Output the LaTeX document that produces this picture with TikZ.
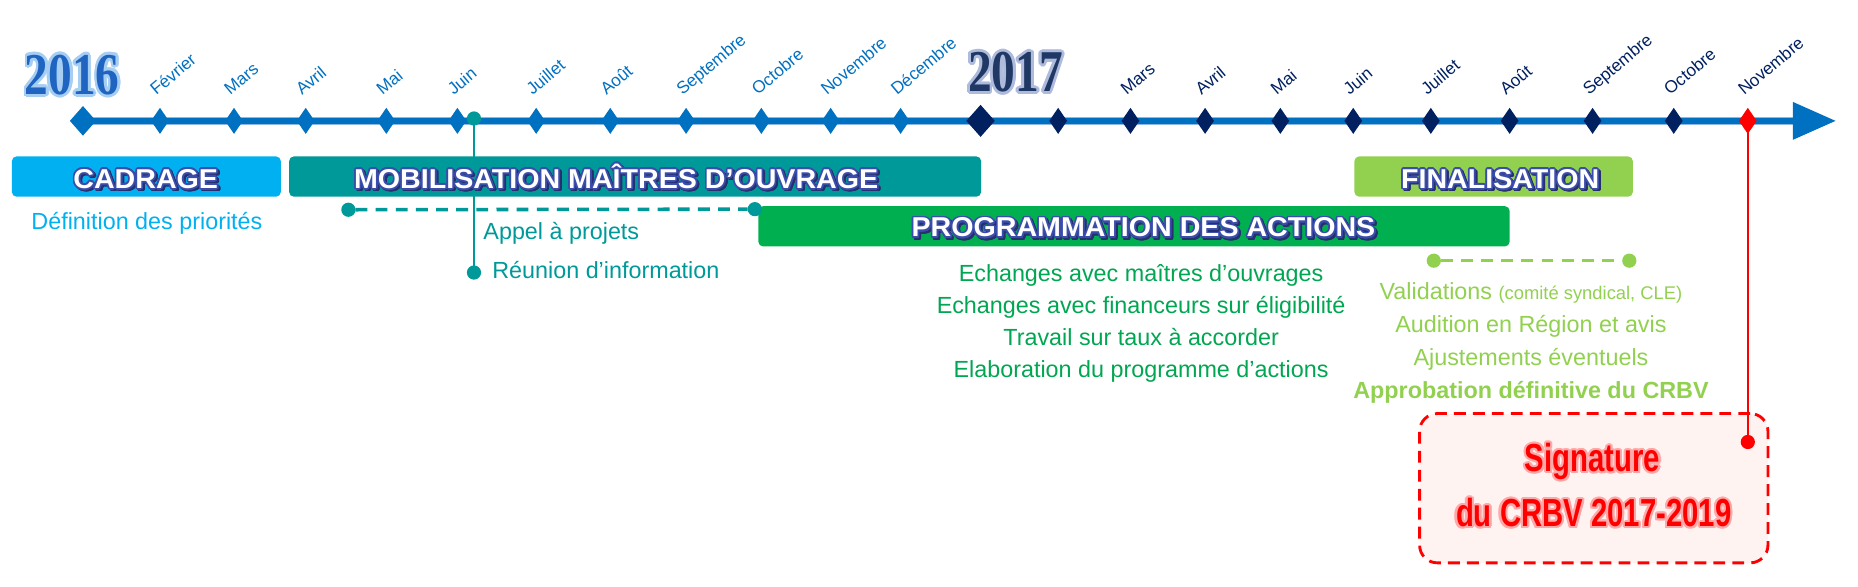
\documentclass[tikz,border=0pt]{standalone}
\usepackage{fontspec}
\setmainfont{Liberation Sans}
\newfontfamily\titlefont{Liberation Sans}[FakeStretch=1.05]
\newfontfamily\yearfont{Liberation Serif}[FakeStretch=0.8]
\newfontfamily\sigfont{Liberation Sans}[FakeStretch=0.75]
\usetikzlibrary{shapes.geometric}
\definecolor{axisblue}{HTML}{0070C0}
\definecolor{axisedge}{HTML}{8DB8E6}
\definecolor{navym}{HTML}{002060}
\definecolor{cadblue}{HTML}{00B0F0}
\definecolor{tealc}{HTML}{009999}
\definecolor{greenc}{HTML}{00B050}
\definecolor{greent}{HTML}{00A651}
\definecolor{lgreen}{HTML}{92D050}
\definecolor{outl}{HTML}{3B4DAA}
\definecolor{shad}{HTML}{27306E}
\definecolor{sigred}{HTML}{FF0000}
\definecolor{sigfill}{HTML}{FFF3F1}
\definecolor{sigglow}{HTML}{FFA8A8}
\definecolor{yrA}{HTML}{1E64C0}
\definecolor{glowA}{HTML}{A6CDF2}
\definecolor{yrB}{HTML}{1F3864}
\definecolor{glowB}{HTML}{AEBBDD}
\newcommand\halotext[3]{%
  \leavevmode
  \foreach \hang in {0,22.5,...,337.5}{%
    \pgfmathsetlengthmacro\hx{#2*cos(\hang)}%
    \pgfmathsetlengthmacro\hy{#2*sin(\hang)}%
    \rlap{\hspace*{\hx}\raisebox{\hy}{\textcolor{#1}{#3}}}}%
  #3}
\begin{document}
\begin{tikzpicture}[x=1pt,y=-1pt]
\tikzset{
  every node/.style={inner sep=0pt,outer sep=0pt},
  dia/.style={diamond,inner sep=0pt,minimum width=15pt,minimum height=22pt},
  monthlab/.style={anchor=base west,rotate=40,font=\fontsize{14.5}{14.5}\selectfont},
  bar/.style={rounded corners=4pt,minimum height=34pt,anchor=north west},
  ttl/.style={anchor=base,font=\titlefont\bfseries\fontsize{23}{23}\selectfont},
  body/.style={anchor=base,font=\fontsize{19.7}{19.7}\selectfont},
  dot/.style={circle,minimum size=12pt,inner sep=0pt},
  yr/.style={anchor=base,font=\yearfont\bfseries\fontsize{50}{50}\selectfont},
  sig/.style={anchor=base,text=sigred,font=\sigfont\bfseries\fontsize{33}{33}\selectfont},
}
\useasboundingbox (0,0) rectangle (1568,494.6);
% ---------- axis ----------
\coordinate (axstart) at (70,102);
\coordinate (axend) at (1516,102);
\draw[axisedge,line width=7pt] (axstart) -- (axend);
\draw[axisblue,line width=5pt] (axstart) -- (axend);
\fill[axisblue] (1513,86) -- (1549,102) -- (1513,118) -- cycle;
% ---------- teal vertical connector (under bars) ----------
\coordinate (tA) at (400,100);
\coordinate (tR) at (400,230);
\draw[tealc,line width=1.6pt] (tA) -- (tR);
% ---------- diamonds and months ----------
\node[dia,fill=axisblue,minimum width=22pt,minimum height=25pt] (y16) at (axstart) {};
\foreach \x/\m/\n in {135/Février/a2,197.5/Mars/a3,258/Avril/a4,326/Mai/a5,386/Juin/a6,452.5/Juillet/a7,515/Août/a8,579/Septembre/a9,642.5/Octobre/a10,701/Novembre/a11,760/Décembre/a12}{
  \node[dia,fill=axisblue] (\n) at (\x,102) {};
  \node[monthlab,text=axisblue] (l\n) at (\x-3,81) {\m};
}
\node[dia,fill=navym,minimum width=24pt,minimum height=27pt] (y17) at (827.5,102) {};
\node[dia,fill=navym] (b2) at (893,102) {};
\foreach \x/\m/\n in {954/Mars/b3,1017/Avril/b4,1080.5/Mai/b5,1142/Juin/b6,1207.5/Juillet/b7,1274/Août/b8,1344/Septembre/b9,1412.5/Octobre/b10}{
  \node[dia,fill=navym] (\n) at (\x,102) {};
  \node[monthlab,text=navym] (l\n) at (\x-3,81) {\m};
}
\node[monthlab,text=navym] (lb11) at (1472,81) {Novembre};
% ---------- years ----------
\node[yr,text=yrA] (t16) at (61,79.5) {\halotext{glowA}{2.4pt}{2016}};
\node[yr,text=yrB] (t17) at (857,77.5) {\halotext{glowB}{2.4pt}{2017}};
% ---------- teal dots ----------
\node[dot,fill=tealc] (tdA) at (tA) {};
\node[dot,fill=tealc] (tdR) at (tR) {};
% ---------- phase bars ----------
\node[bar,fill=cadblue,minimum width=227pt] (bcad) at (10,132) {};
\node[bar,fill=tealc,minimum width=584pt] (bmob) at (244,132) {};
\node[bar,fill=greenc,minimum width=634pt] (bprog) at (640,174) {};
\node[bar,fill=lgreen,minimum width=235pt] (bfin) at (1143,132) {};
% ---------- titles ----------
\node[ttl,text=shad] (tcadS) at (124.6,160.6) {\halotext{shad}{1.4pt}{CADRAGE}};
\node[ttl,text=white] (tcad) at (123,159) {\halotext{outl}{1.4pt}{CADRAGE}};
\node[ttl,text=shad] (tmobS) at (521.6,160.6) {\halotext{shad}{1.4pt}{MOBILISATION MAÎTRES D’OUVRAGE}};
\node[ttl,text=white] (tmob) at (520,159) {\halotext{outl}{1.4pt}{MOBILISATION MAÎTRES D’OUVRAGE}};
\node[ttl,text=shad] (tprogS) at (966.6,201.6) {\halotext{shad}{1.4pt}{PROGRAMMATION DES ACTIONS}};
\node[ttl,text=white] (tprog) at (965,200) {\halotext{outl}{1.4pt}{PROGRAMMATION DES ACTIONS}};
\node[ttl,text=shad] (tfinS) at (1267.6,160.6) {\halotext{shad}{1.4pt}{FINALISATION}};
\node[ttl,text=white] (tfin) at (1266,159) {\halotext{outl}{1.4pt}{FINALISATION}};
% ---------- cadrage text ----------
\node[body,text=cadblue] (tdef) at (124,194) {Définition des priorités};
% ---------- mobilisation ----------
\node[dot,fill=tealc] (mA) at (294,177) {};
\node[dot,fill=tealc] (mB) at (637,176.5) {};
\draw[tealc,line width=3pt,dash pattern=on 10pt off 7pt] (mA) -- (mB);
\node[body,anchor=base west,text=tealc] (tapp) at (408,202.5) {Appel à projets};
\node[body,anchor=base west,text=tealc] (treu) at (415.5,235) {Réunion d’information};
% ---------- programmation ----------
\node[body,text=greent] (g1) at (963,237.5) {Echanges avec maîtres d’ouvrages};
\node[body,text=greent] (g2) at (963,264.5) {Echanges avec financeurs sur éligibilité};
\node[body,text=greent] (g3) at (963,291.5) {Travail sur taux à accorder};
\node[body,text=greent] (g4) at (963,318.5) {Elaboration du programme d’actions};
% ---------- finalisation ----------
\node[dot,fill=lgreen] (fA) at (1210,220) {};
\node[dot,fill=lgreen] (fB) at (1375,220) {};
\draw[lgreen,line width=3pt,dash pattern=on 10pt off 7pt] (fA) -- (fB);
\node[body,text=lgreen] (f1) at (1292,253) {Validations {\fontsize{15.5}{15.5}\selectfont(comité syndical, CLE)}};
\node[body,text=lgreen] (f2) at (1292,281) {Audition en Région et avis};
\node[body,text=lgreen] (f3) at (1292,308.5) {Ajustements éventuels};
\node[body,text=lgreen,font=\bfseries\fontsize{19.7}{19.7}\selectfont] (f4) at (1292,336) {Approbation définitive du CRBV};
% ---------- signature ----------
\node[draw=sigred,fill=sigfill,line width=2.4pt,dash pattern=on 10pt off 6pt,rounded corners=15pt,minimum width=294pt,minimum height=126pt] (sigbox) at (1345,412) {};
\node[sig] (s1) at (1344,398) {\halotext{sigglow}{1.8pt}{Signature}};
\node[sig] (s2) at (1345,444.5) {\halotext{sigglow}{1.8pt}{du CRBV 2017-2019}};
\node[dia,fill=sigred] (b11) at (1475,102) {};
\coordinate (rdot) at (1475,373);
\draw[sigred,line width=1.6pt] (b11.center) -- (rdot);
\node[dot,fill=sigred] (rd) at (rdot) {};
\end{tikzpicture}
\end{document}
